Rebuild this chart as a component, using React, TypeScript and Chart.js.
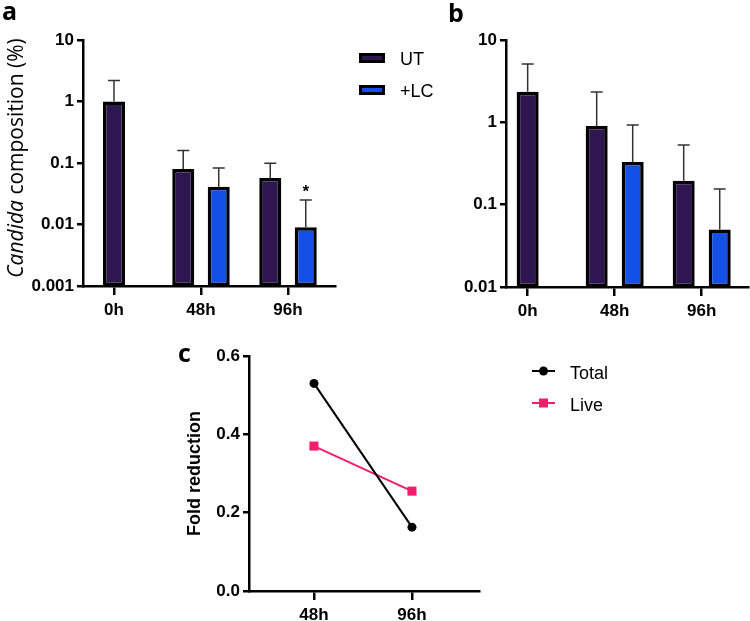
import React, { useEffect, useRef } from 'react';
import { Chart, registerables } from 'chart.js';

Chart.register(...registerables);

// ---------- data ----------
const timeLabels = ['0h', '48h', '96h'];
const barSeries = ['UT', '+LC'];

const aUT = [1.0, 0.08, 0.057];
const aUTErr = [2.2, 0.16, 0.099];
const aLC = [null, 0.041, 0.009];
const aLCErr = [null, 0.083, 0.025];
const aLCSig = ['', '', '*'];
const aTicks = [0.001, 0.01, 0.1, 1, 10];

const bUT = [2.35, 0.9, 0.195];
const bUTErr = [5.1, 2.34, 0.53];
const bLC = [null, 0.33, 0.05];
const bLCErr = [null, 0.93, 0.155];
const bTicks = [0.01, 0.1, 1, 10];

const cLabels = ['48h', '96h'];
const cSeries = ['Total', 'Live'];
const cTotal = [0.53, 0.163];
const cLive = [0.37, 0.255];
const cTicks = [0, 0.2, 0.4, 0.6];

// ---------- styles ----------
const SANS = "'Liberation Sans', Arial, sans-serif";
const HUMAN = "'Open Sans', 'Liberation Sans', sans-serif";
const UT_COLOR = '#2E1750';
const LC_COLOR = '#1550E6';
const PINK = '#F31C6D';

const tickFont = { family: SANS, size: 17, weight: 'bold' as const };

// ---------- plugins ----------
const errorBarPlugin = {
  id: 'errorBars',
  afterDatasetsDraw(chart: any) {
    const ctx = chart.ctx;
    const ys = chart.scales.y;
    chart.data.datasets.forEach((ds: any, di: number) => {
      const meta = chart.getDatasetMeta(di);
      meta.data.forEach((el: any, i: number) => {
        const e = ds.errorHigh ? ds.errorHigh[i] : null;
        if (e == null || ds.data[i] == null || ds.data[i].y == null) return;
        const top = ys.getPixelForValue(e);
        const x = el.x;
        ctx.save();
        ctx.strokeStyle = '#333';
        ctx.lineWidth = 1.5;
        ctx.beginPath();
        ctx.moveTo(x, el.y);
        ctx.lineTo(x, top);
        ctx.moveTo(x - 6, top);
        ctx.lineTo(x + 6, top);
        ctx.stroke();
        if (ds.sig && ds.sig[i]) {
          ctx.fillStyle = '#000';
          ctx.font = `bold 17px ${SANS}`;
          ctx.textAlign = 'center';
          ctx.textBaseline = 'alphabetic';
          ctx.fillText(ds.sig[i], x, top - 3);
        }
        ctx.restore();
      });
    });
  },
};

function panelLabel(text: string, x: number, y: number) {
  return {
    id: 'panelLabel',
    afterDraw(chart: any) {
      const ctx = chart.ctx;
      ctx.save();
      ctx.fillStyle = '#000';
      ctx.font = `bold 25px ${HUMAN}`;
      ctx.textAlign = 'left';
      ctx.textBaseline = 'alphabetic';
      ctx.fillText(text, x, y);
      ctx.restore();
    },
  };
}

function italicTitle(italicPart: string, rest: string, cx: number, cy: number) {
  return {
    id: 'italicTitle',
    afterDraw(chart: any) {
      const ctx = chart.ctx;
      ctx.save();
      ctx.translate(cx, cy);
      ctx.rotate(-Math.PI / 2);
      ctx.fillStyle = '#000';
      ctx.textBaseline = 'middle';
      ctx.textAlign = 'left';
      const fi = `italic 21px ${HUMAN}`;
      const fr = `21px ${HUMAN}`;
      ctx.font = fi;
      const w1 = ctx.measureText(italicPart).width;
      ctx.font = fr;
      const w2 = ctx.measureText(rest).width;
      const start = -(w1 + w2) / 2;
      ctx.font = fi;
      ctx.fillText(italicPart, start, 0);
      ctx.font = fr;
      ctx.fillText(rest, start + w1, 0);
      ctx.restore();
    },
  };
}

function barLegend(x: number, y: number, gap: number) {
  return {
    id: 'barLegend',
    afterDraw(chart: any) {
      const ctx = chart.ctx;
      ctx.save();
      chart.data.datasets.forEach((ds: any, i: number) => {
        const base = y + i * gap;
        ctx.fillStyle = '#000';
        ctx.fillRect(x, base - 12, 26, 10);
        ctx.fillStyle = ds.backgroundColor;
        ctx.fillRect(x + 3, base - 9, 20, 4);
        ctx.fillStyle = '#000';
        ctx.font = `18px ${SANS}`;
        ctx.textBaseline = 'alphabetic';
        ctx.fillText(ds.label, x + 41, base);
      });
      ctx.restore();
    },
  };
}

function lineLegend(x: number, y: number, gap: number) {
  return {
    id: 'lineLegend',
    afterDraw(chart: any) {
      const ctx = chart.ctx;
      ctx.save();
      chart.data.datasets.forEach((ds: any, i: number) => {
        const base = y + i * gap;
        const my = base - 8;
        ctx.strokeStyle = ds.borderColor;
        ctx.lineWidth = 2;
        ctx.beginPath();
        ctx.moveTo(x, my);
        ctx.lineTo(x + 23, my);
        ctx.stroke();
        ctx.fillStyle = ds.borderColor;
        if (ds.pointStyle === 'rect') {
          ctx.fillRect(x + 11.5 - 4.5, my - 4.5, 9, 9);
        } else {
          ctx.beginPath();
          ctx.arc(x + 11.5, my, 4.5, 0, Math.PI * 2);
          ctx.fill();
        }
        ctx.fillStyle = '#000';
        ctx.font = `18px ${SANS}`;
        ctx.textBaseline = 'alphabetic';
        ctx.fillText(ds.label, x + 38, base);
      });
      ctx.restore();
    },
  };
}

const toPoints = (arr: (number | null)[]) => arr.map((v, i) => ({ x: i, y: v }));

// ---------- configs ----------
function barConfig(
  ut: (number | null)[],
  utErr: (number | null)[],
  lc: (number | null)[],
  lcErr: (number | null)[],
  lcSig: string[] | null,
  ticks: number[],
  padding: any,
  yWidth: number,
  xHeight: number,
  xMin: number,
  xMax: number,
  catPct: number,
  extra: any[]
) {
  const common = {
    borderColor: '#000',
    borderWidth: 3.5,
    borderSkipped: false,
    maxBarThickness: 22,
    skipNull: true,
    categoryPercentage: catPct,
    barPercentage: 1,
  };
  return {
    type: 'bar',
    data: {
      datasets: [
        { ...common, label: barSeries[0], data: toPoints(ut), errorHigh: utErr, backgroundColor: UT_COLOR },
        { ...common, label: barSeries[1], data: toPoints(lc), errorHigh: lcErr, sig: lcSig, backgroundColor: LC_COLOR },
      ],
    },
    options: {
      animation: false,
      responsive: false,
      devicePixelRatio: 1,
      layout: { padding },
      plugins: { legend: { display: false }, tooltip: { enabled: false } },
      scales: {
        x: {
          type: 'linear',
          min: xMin,
          max: xMax,
          offset: false,
          grid: { offset: false, drawOnChartArea: false, drawTicks: true, tickLength: 9, color: '#000', lineWidth: 2.5 },
          border: { color: '#000', width: 2.5 },
          ticks: { color: '#000', font: tickFont, padding: 5, maxRotation: 0, autoSkip: false, callback: (v: any) => timeLabels[v] ?? '' },
          afterBuildTicks: (s: any) => { s.ticks = timeLabels.map((_, i) => ({ value: i })); },
          afterFit: (s: any) => { s.height = xHeight; },
        },
        y: {
          type: 'logarithmic',
          min: ticks[0],
          max: ticks[ticks.length - 1],
          grid: { drawOnChartArea: false, drawTicks: true, tickLength: 6, color: '#000', lineWidth: 2.5 },
          border: { color: '#000', width: 2.5 },
          ticks: { color: '#000', font: tickFont, padding: 3, callback: (v: any) => String(v) },
          afterBuildTicks: (s: any) => { s.ticks = ticks.map((v) => ({ value: v })); },
          afterFit: (s: any) => { s.width = yWidth; },
        },
      },
    },
    plugins: [errorBarPlugin, ...extra],
  };
}

function configA() {
  return barConfig(aUT, aUTErr, aLC, aLCErr, aLCSig, aTicks, { top: 40, right: 115, bottom: 0, left: 0 }, 83, 44, -0.356, 2.54, 0.816, [
    panelLabel('a', 2, 20),
    italicTitle('Candida', ' composition (%)', 17, 158),
    barLegend(359, 65, 32),
  ]);
}

function configB() {
  return barConfig(bUT, bUTErr, bLC, bLCErr, null, bTicks, { top: 40, right: 2, bottom: 0, left: 0 }, 86, 43, -0.249, 2.532, 0.828, [
    panelLabel('b', 28, 22),
  ]);
}

function configC() {
  return {
    type: 'line',
    data: {
      datasets: [
        {
          label: cSeries[0],
          data: toPoints(cTotal),
          borderColor: '#000',
          backgroundColor: '#000',
          borderWidth: 2,
          pointStyle: 'circle',
          pointRadius: 4.5,
          pointBorderWidth: 0,
        },
        {
          label: cSeries[1],
          data: toPoints(cLive),
          borderColor: PINK,
          backgroundColor: PINK,
          borderWidth: 2,
          pointStyle: 'rect',
          pointRadius: 6.4,
          pointBorderWidth: 0,
        },
      ],
    },
    options: {
      animation: false,
      responsive: false,
      devicePixelRatio: 1,
      layout: { padding: { top: 26, right: 271, bottom: 0, left: 0 } },
      plugins: { legend: { display: false }, tooltip: { enabled: false } },
      scales: {
        x: {
          type: 'linear',
          min: -0.663,
          max: 1.684,
          grid: { drawOnChartArea: false, drawTicks: true, tickLength: 9, color: '#000', lineWidth: 2.5 },
          border: { color: '#000', width: 2.5 },
          ticks: { color: '#000', font: tickFont, padding: 5, maxRotation: 0, callback: (v: any) => cLabels[v] ?? '' },
          afterBuildTicks: (s: any) => { s.ticks = cLabels.map((_, i) => ({ value: i })); },
          afterFit: (s: any) => { s.height = 30; },
        },
        y: {
          type: 'linear',
          min: cTicks[0],
          max: cTicks[cTicks.length - 1],
          grid: { drawOnChartArea: false, drawTicks: true, tickLength: 6, color: '#000', lineWidth: 2.5 },
          border: { color: '#000', width: 2.5 },
          ticks: { color: '#000', font: tickFont, padding: 3, callback: (v: any) => Number(v).toFixed(1) },
          afterBuildTicks: (s: any) => { s.ticks = cTicks.map((v) => ({ value: v })); },
          afterFit: (s: any) => { s.width = 79; },
          title: {
            display: true,
            text: 'Fold reduction',
            color: '#000',
            font: { family: SANS, size: 18, weight: 'bold' },
            padding: { top: 14, bottom: 0 },
          },
        },
      },
    },
    plugins: [panelLabel('c', 8, 32), lineLegend(362, 49, 32)],
  };
}

// ---------- components ----------
function ChartBox({ left, top, width, height, make }: any) {
  const ref = useRef<HTMLCanvasElement | null>(null);
  useEffect(() => {
    if (!ref.current) return;
    const chart = new Chart(ref.current, make());
    return () => chart.destroy();
  }, []);
  return (
    <div style={{ position: 'absolute', left, top, width, height }}>
      <canvas ref={ref} width={width} height={height} style={{ display: 'block', width, height }} />
    </div>
  );
}

export default function App() {
  return (
    <div style={{ position: 'absolute', left: 0, top: 0, width: 750, height: 621, background: '#fff', overflow: 'hidden' }}>
      <ChartBox left={0} top={0} width={450} height={330} make={configA} />
      <ChartBox left={420} top={0} width={330} height={330} make={configB} />
      <ChartBox left={170} top={330} width={580} height={291} make={configC} />
    </div>
  );
}
